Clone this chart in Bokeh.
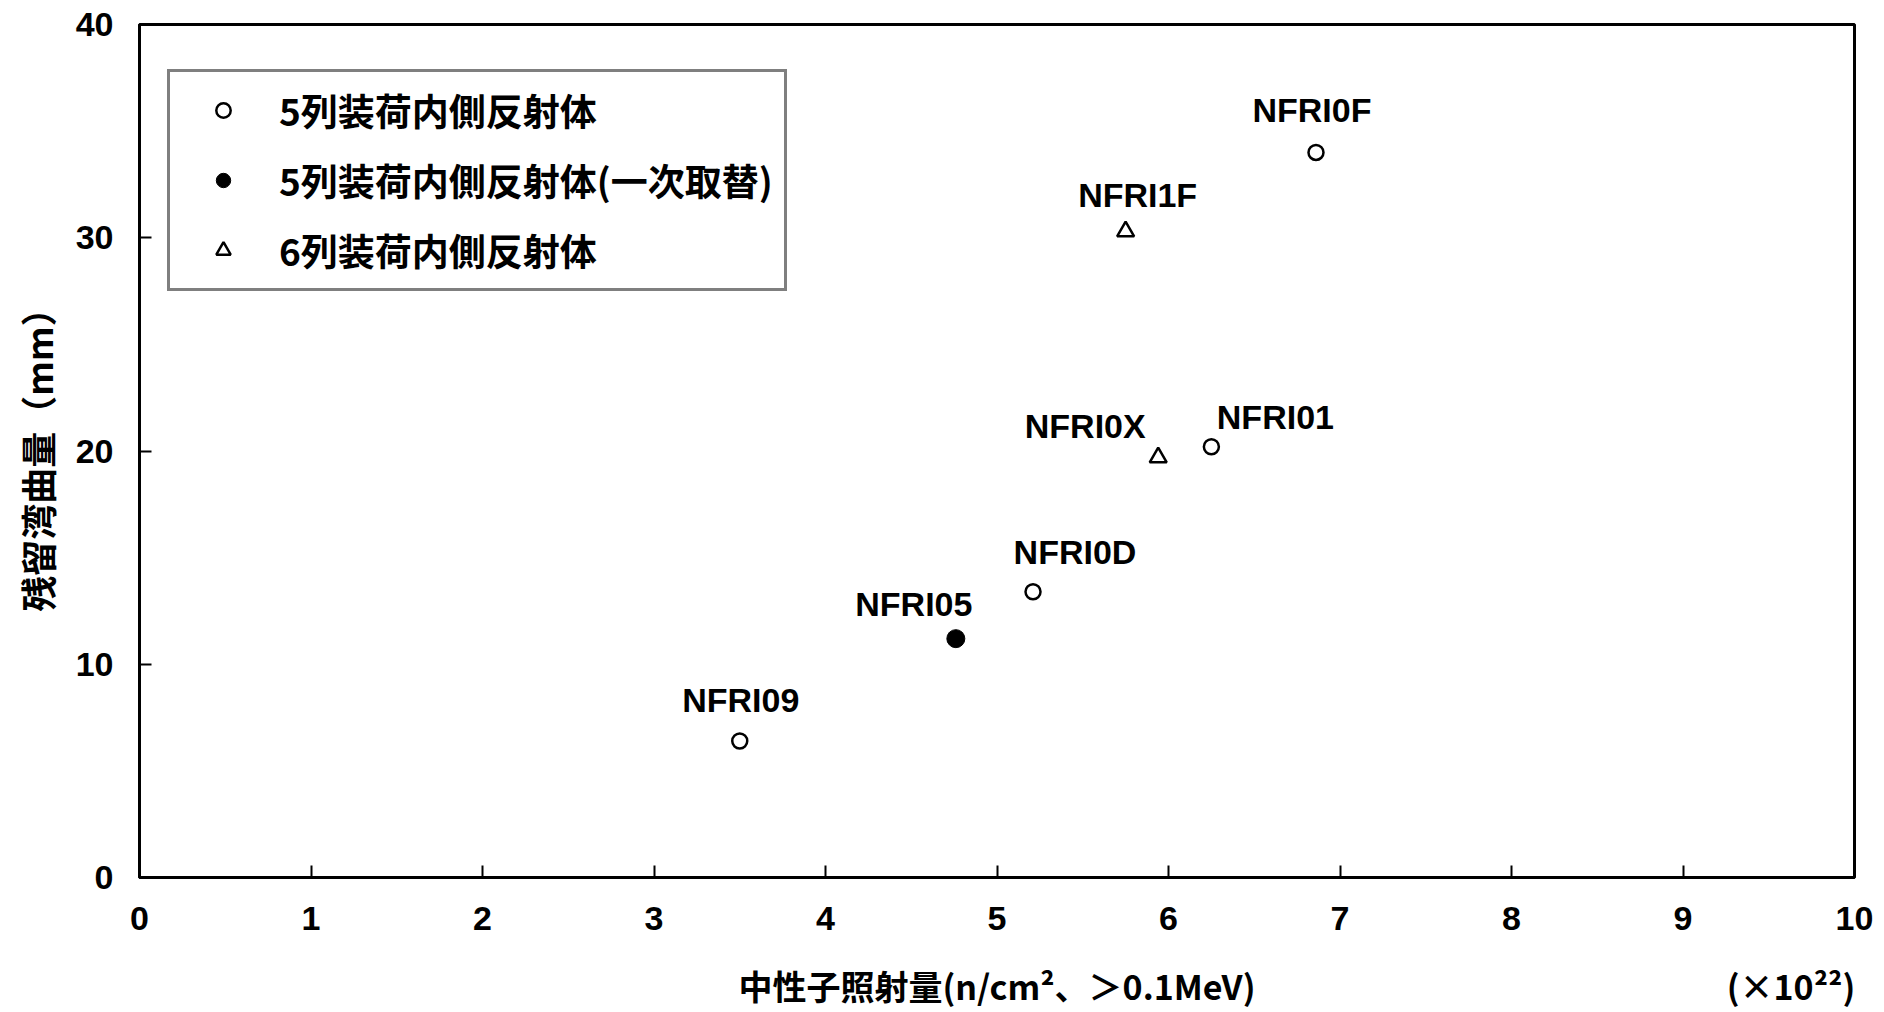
from bokeh.plotting import figure
from bokeh.models import (ColumnDataSource, Legend, LegendItem, FixedTicker, Range1d,
                          LinearAxis)
from bokeh.core.properties import value
from bokeh.embed import file_html
from bokeh.resources import INLINE

# ---- data ----
series_labels = ["5列装荷内側反射体", "5列装荷内側反射体(一次取替)", "6列装荷内側反射体"]

names_a = ["NFRI09", "NFRI0D", "NFRI01", "NFRI0F"]
fluence_a = [3.50, 5.21, 6.25, 6.86]
bow_a = [6.4, 13.4, 20.2, 34.0]

names_b = ["NFRI05"]
fluence_b = [4.76]
bow_b = [11.2]

names_c = ["NFRI0X", "NFRI1F"]
fluence_c = [5.94, 5.75]
bow_c = [19.7, 30.3]

x_ticks = [0, 1, 2, 3, 4, 5, 6, 7, 8, 9, 10]
y_ticks = [0, 10, 20, 30, 40]

x_title = "中性子照射量(n/cm²、＞0.1MeV)"
y_title = "残留湾曲量（mm）"
x_unit = "(×10²²)"

# where the x title and the unit note sit along the x axis (axis units)
x_title_at = 5.0
x_unit_at = 9.63

# label placement (screen px offsets from point)
label_dx = {"NFRI09": 1, "NFRI05": -42, "NFRI0D": 42, "NFRI0X": -73,
            "NFRI01": 64, "NFRI1F": 12, "NFRI0F": -4}
label_dy = {"NFRI09": -41, "NFRI05": -35, "NFRI0D": -40, "NFRI0X": -31,
            "NFRI01": -30, "NFRI1F": -36, "NFRI0F": -42}

LAT = "Liberation Sans"
CJK = "Noto Sans CJK JP"

p = figure(width=1884, height=1012, output_backend="svg", toolbar_location=None,
           x_range=Range1d(0, 10), y_range=Range1d(0, 40),
           min_border_left=139, min_border_top=24, min_border_right=30, min_border_bottom=135)
p.background_fill_color = "white"
p.border_fill_color = "white"
p.outline_line_color = "black"
p.outline_line_width = 3
p.xgrid.visible = False
p.ygrid.visible = False

for ax in (p.xaxis[0], p.yaxis[0]):
    ax.axis_line_width = 3
    ax.axis_line_color = "black"
    ax.major_tick_in = 12
    ax.major_tick_out = 0
    ax.major_tick_line_width = 2
    ax.minor_tick_line_color = None
    ax.major_label_text_font = LAT
    ax.major_label_text_font_style = "bold"
    ax.major_label_text_font_size = "34px"
    ax.major_label_text_color = "black"
    ax.axis_label_text_font = CJK
    ax.axis_label_text_font_style = "bold"
    ax.axis_label_text_font_size = "36px"
    ax.axis_label_text_color = "black"

p.xaxis[0].ticker = FixedTicker(ticks=x_ticks)
p.yaxis[0].ticker = FixedTicker(ticks=y_ticks)
p.xaxis[0].major_label_standoff = 29
p.yaxis[0].major_label_standoff = 26
p.yaxis[0].axis_label = y_title
p.yaxis[0].axis_label_standoff = 10

# second row below the axis: x title (centred) and the unit note (right)
ax2 = LinearAxis(ticker=FixedTicker(ticks=[x_title_at, x_unit_at]),
                 major_label_overrides={x_title_at: x_title, x_unit_at: x_unit})
ax2.axis_line_color = None
ax2.major_tick_line_color = None
ax2.minor_tick_line_color = None
ax2.major_tick_in = 0
ax2.major_tick_out = 0
ax2.major_label_standoff = 28
ax2.major_label_text_font = CJK
ax2.major_label_text_font_style = "bold"
ax2.major_label_text_font_size = "34px"
ax2.major_label_text_color = "black"
p.add_layout(ax2, "below")

src_a = ColumnDataSource(dict(x=fluence_a, y=bow_a, name=names_a,
                              dx=[label_dx[n] for n in names_a], dy=[label_dy[n] for n in names_a]))
src_b = ColumnDataSource(dict(x=fluence_b, y=bow_b, name=names_b,
                              dx=[label_dx[n] for n in names_b], dy=[label_dy[n] for n in names_b]))
src_c = ColumnDataSource(dict(x=fluence_c, y=bow_c, name=names_c,
                              dx=[label_dx[n] for n in names_c], dy=[label_dy[n] for n in names_c]))

r_a = p.scatter("x", "y", source=src_a, marker="circle", size=15,
                fill_color="white", line_color="black", line_width=2.5)
r_b = p.scatter("x", "y", source=src_b, marker="circle", size=18,
                fill_color="black", line_color="black", line_width=1)
r_c = p.scatter("x", "y", source=src_c, marker="triangle", size=17,
                fill_color="white", line_color="black", line_width=2.5)

for s in (src_a, src_b, src_c):
    p.text("x", "y", text="name", source=s, x_offset="dx", y_offset="dy",
           text_align="center", text_baseline="middle",
           text_font=value(LAT), text_font_style="bold", text_font_size="34px",
           text_color="black")

legend = Legend(items=[LegendItem(label=series_labels[0], renderers=[r_a]),
                       LegendItem(label=series_labels[1], renderers=[r_b]),
                       LegendItem(label=series_labels[2], renderers=[r_c])],
                location=(28, 586))
legend.border_line_color = "black"
legend.border_line_width = 3
legend.background_fill_color = "white"
legend.background_fill_alpha = 1
legend.padding = 11
legend.spacing = 16
legend.margin = 0
legend.glyph_width = 84
legend.glyph_height = 36
legend.label_height = 40
legend.label_standoff = 14
legend.label_text_font = CJK
legend.label_text_font_style = "bold"
legend.label_text_font_size = "37px"
legend.label_text_color = "black"
p.add_layout(legend)

open("out.html", "w").write(file_html(p, INLINE))
